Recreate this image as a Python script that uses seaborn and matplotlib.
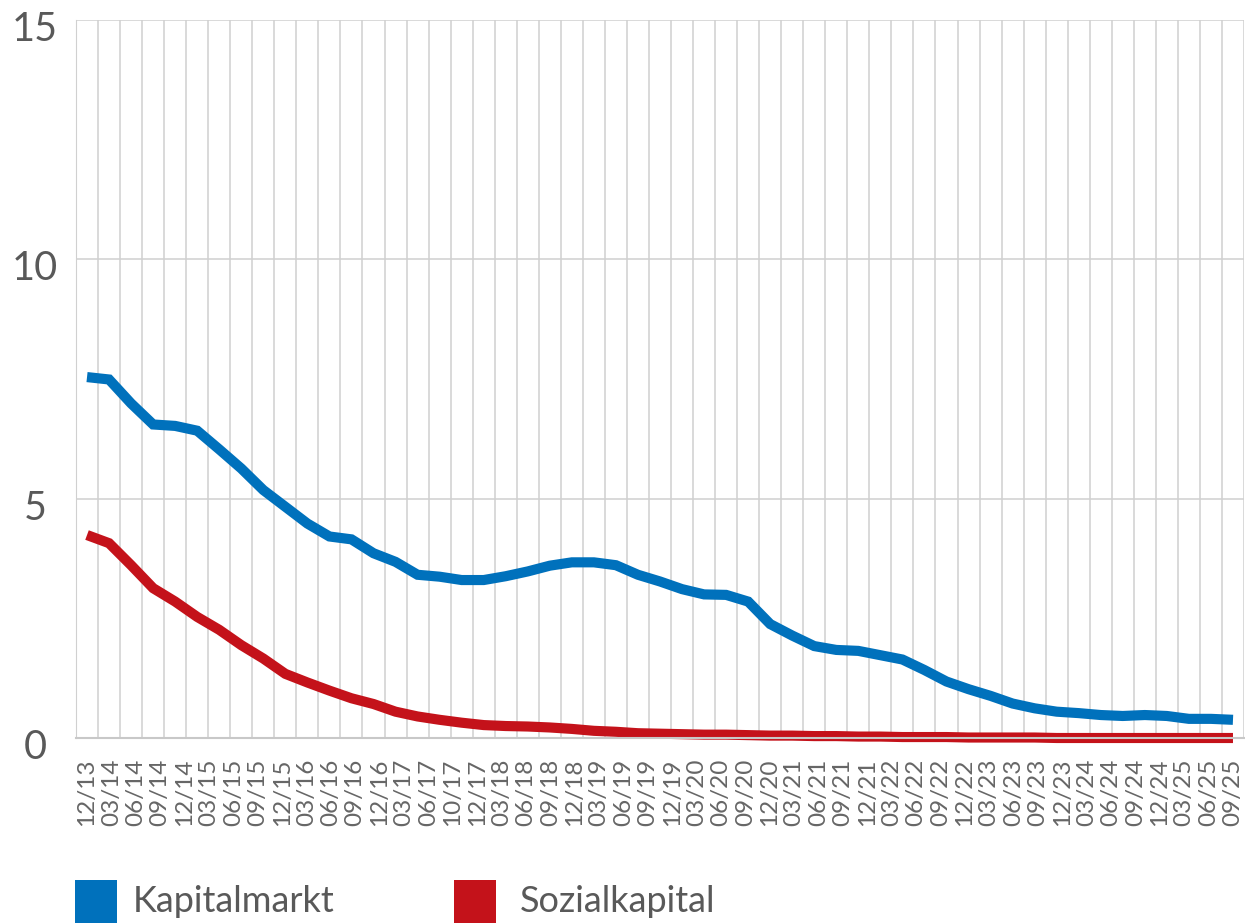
import numpy as np
import pandas as pd
import matplotlib
matplotlib.use("Agg")
import matplotlib.pyplot as plt
import matplotlib.transforms as mtrans
from matplotlib.patches import Rectangle
import seaborn as sns

# Quartalsbeschriftungen
quartale = [
    "12/13", "03/14", "06/14", "09/14", "12/14", "03/15", "06/15", "09/15",
    "12/15", "03/16", "06/16", "09/16", "12/16", "03/17", "06/17", "10/17",
    "12/17", "03/18", "06/18", "09/18", "12/18", "03/19", "06/19", "09/19",
    "12/19", "03/20", "06/20", "09/20", "12/20", "03/21", "06/21", "09/21",
    "12/21", "03/22", "06/22", "09/22", "12/22", "03/23", "06/23", "09/23",
    "12/23", "03/24", "06/24", "09/24", "12/24", "03/25", "06/25", "09/25",
]

# Werte
kapitalmarkt = [
    7.54, 7.49, 6.99, 6.55, 6.52, 6.42, 6.03, 5.63, 5.18, 4.83,
    4.48, 4.21, 4.15, 3.86, 3.68, 3.41, 3.37, 3.30, 3.30, 3.38,
    3.48, 3.60, 3.67, 3.67, 3.61, 3.41, 3.27, 3.11, 3.00, 2.99,
    2.85, 2.38, 2.14, 1.92, 1.84, 1.82, 1.73, 1.64, 1.42, 1.18,
    1.02, 0.88, 0.72, 0.62, 0.55, 0.52, 0.48, 0.46, 0.48, 0.46,
    0.40, 0.40, 0.38,
]
sozialkapital = [
    4.24, 4.07, 3.61, 3.13, 2.85, 2.53, 2.26, 1.94, 1.66, 1.34,
    1.16, 0.99, 0.83, 0.71, 0.55, 0.45, 0.38, 0.32, 0.27, 0.25,
    0.24, 0.22, 0.19, 0.15, 0.13, 0.10, 0.09, 0.08, 0.07, 0.07,
    0.06, 0.05, 0.05, 0.04, 0.04, 0.03, 0.03, 0.02, 0.02, 0.02,
    0.01, 0.01, 0.01, 0.01, 0.00, 0.00, 0.00, 0.00, 0.00, 0.00,
    0.00, 0.00, 0.00,
]
serien = ["Kapitalmarkt", "Sozialkapital"]
farben = ["#0071bc", "#c4121a"]

n = len(kapitalmarkt)
df = pd.DataFrame({
    "idx": list(range(n)) * 2,
    "wert": kapitalmarkt + sozialkapital,
    "serie": [serien[0]] * n + [serien[1]] * n,
})

sns.set_style("white")
plt.rcParams["font.family"] = ["Lato", "DejaVu Sans"]

fig = plt.figure(figsize=(12.45, 9.23), dpi=100)
ax = fig.add_axes([76 / 1245, 185 / 923, 1168 / 1245, 718 / 923])

sns.lineplot(data=df, x="idx", y="wert", hue="serie", palette=farben,
             linewidth=7.3, legend=False, ax=ax, clip_on=False,
             solid_capstyle="butt", solid_joinstyle="miter")

ax.set_xlim(-0.5, n - 0.5)
ax.set_ylim(0, 15)
ax.set_yticks([0, 5, 10, 15])
ax.set_xlabel("")
ax.set_ylabel("")

# Gitter: senkrechte Linien zwischen den Kategorien
ax.set_xticks(np.arange(-0.5, n, 1), minor=True)
ax.grid(which="minor", axis="x", color="#d0d0d0", linewidth=1.1)
ax.grid(which="major", axis="y", color="#d0d0d0", linewidth=1.1)
ax.set_axisbelow(True)

ax.set_xticks(np.linspace(0, n - 1, len(quartale)))
ax.set_xticklabels(quartale, rotation=90, fontsize=17.5, color="#666666")
ax.tick_params(axis="x", which="both", length=0, pad=15)
ax.tick_params(axis="y", length=0, pad=29.5, labelsize=28.5, labelcolor="#595959")
offset = mtrans.ScaledTranslation(0, -6 / 100, fig.dpi_scale_trans)
for lbl in ax.get_yticklabels():
    lbl.set_ha("center")
    lbl.set_transform(lbl.get_transform() + offset)

for side in ["top", "right"]:
    ax.spines[side].set_visible(False)
ax.spines["left"].set_color("#d0d0d0")
ax.spines["bottom"].set_color("#c8c8c8")
ax.spines["bottom"].set_linewidth(1.5)

# Legende unten
W, H = 1245, 923
for x0, xt, name, farbe in [(75, 133, serien[0], farben[0]), (454, 520, serien[1], farben[1])]:
    fig.add_artist(Rectangle((x0 / W, 0), 42 / W, 43 / H, transform=fig.transFigure,
                             facecolor=farbe, edgecolor="none"))
    fig.text(xt / W, (H - 902) / H, name, fontsize=26, color="#595959",
             va="center", ha="left")

fig.savefig("out.png", dpi=100)
